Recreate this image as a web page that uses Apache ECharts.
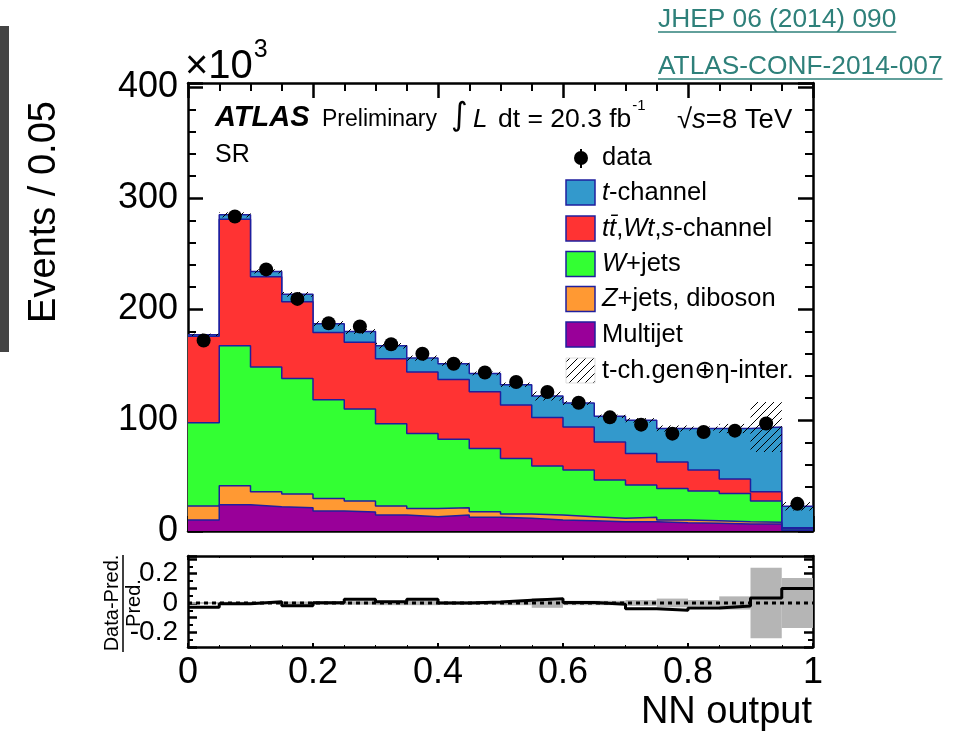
<!DOCTYPE html>
<html>
<head>
<meta charset="utf-8">
<title>NN output — SR</title>
<script src="https://cdn.jsdelivr.net/npm/echarts@6/dist/echarts.min.js"></script>
<style>
  html, body { margin: 0; padding: 0; background: #ffffff; }
  #chart { width: 959px; height: 732px; }
</style>
</head>
<body>
<div id="chart"></div>
<script>
// Lower edges of the 20 NN-output bins (width 0.05)
const binLow = [0.00, 0.05, 0.10, 0.15, 0.20, 0.25, 0.30, 0.35, 0.40, 0.45,
                0.50, 0.55, 0.60, 0.65, 0.70, 0.75, 0.80, 0.85, 0.90, 0.95];
const binWidth = 0.05;

// Expected events per bin, in units of 10^3
const multijet = [9.9, 23.7, 21.9, 21.0, 18.0, 17.1, 14.4, 12.9, 14.4, 12.3,
                  11.4, 9.9, 9.3, 8.4, 8.4, 7.5, 6.9, 6.3, 6.3, 0.6];
const zjetsDiboson = [12.6, 17.1, 13.5, 12.3, 11.4, 9.9, 8.1, 7.5, 6.6, 5.1,
                      4.0, 4.5, 3.6, 3.0, 3.9, 2.4, 2.4, 2.1, 1.5, 0.3];
const wjets = [75.2, 126.2, 112.4, 104.3, 89.0, 83.0, 74.3, 67.5, 61.7, 57.0,
               50.0, 44.3, 42.0, 34.5, 29.1, 28.5, 26.7, 25.5, 19.2, 1.6];
const ttbarWtS = [78.0, 114.2, 81.5, 69.2, 60.6, 60.2, 58.5, 55.4, 54.0, 51.2,
                  48.2, 43.6, 38.9, 34.4, 28.5, 23.9, 18.9, 12.9, 8.4, 0.4];
const tChannel = [1.2, 3.9, 4.8, 6.6, 8.0, 9.7, 11.7, 12.6, 14.1, 16.5,
                  18.3, 19.4, 21.6, 23.1, 29.9, 30.1, 37.5, 45.6, 58.4, 19.4];

// Observed events per bin, in units of 10^3
const observed = [171.8, 283.6, 235.9, 209.3, 187.3, 184.4, 168.4, 159.8, 150.8, 143.0,
                  134.3, 125.3, 115.7, 102.5, 95.9, 87.8, 89.3, 90.5, 97.0, 24.5];

// Relative t-channel generator + eta-interpolation uncertainty per bin
const relUncert = [0.006, 0.008, 0.008, 0.010, 0.012, 0.012, 0.015, 0.015, 0.012, 0.012,
                   0.015, 0.033, 0.015, 0.015, 0.020, 0.030, 0.020, 0.045, 0.240, 0.170];

// Tick labels
const mainYTicks = [0, 100, 200, 300, 400];
const ratioYTicks = [-0.2, 0, 0.2];

const FONT = 'Liberation Sans, Arial, Helvetica, sans-serif';
const NAVY = '#1f1f9e';
const colors = {
  tChannel: '#3399cc',
  ttbarWtS: '#ff3333',
  wjets: '#33ff33',
  zjetsDiboson: '#ff9933',
  multijet: '#990099',
  ratioBand: '#b5b5b5'
};

// cumulative stack, bottom component first
const components = [
  ['Multijet', multijet, colors.multijet],
  ['Z+jets, diboson', zjetsDiboson, colors.zjetsDiboson],
  ['W+jets', wjets, colors.wjets],
  ['tt,Wt,s-channel', ttbarWtS, colors.ttbarWtS],
  ['t-channel', tChannel, colors.tChannel]
];
const cumulative = [];
let running = binLow.map(() => 0);
components.forEach(([name, vals, color]) => {
  running = running.map((r, i) => r + vals[i]);
  cumulative.push({ name, top: running.slice(), color });
});
const total = running;

// step-line points: one per bin lower edge, plus the closing edge at 1
function stepPoints(vals) {
  const pts = binLow.map((x, i) => [x, vals[i]]);
  pts.push([binLow[binLow.length - 1] + binWidth, vals[vals.length - 1]]);
  return pts;
}

// diagonal hatch tile
function hatchTile() {
  const c = document.createElement('canvas');
  const s = 8;
  c.width = s; c.height = s;
  const g = c.getContext('2d');
  g.strokeStyle = '#000';
  g.lineWidth = 1;
  g.beginPath();
  g.moveTo(0, s); g.lineTo(s, 0);
  g.moveTo(-1, 1); g.lineTo(1, -1);
  g.moveTo(s - 1, s + 1); g.lineTo(s + 1, s - 1);
  g.stroke();
  return c;
}
const hatchFill = { image: hatchTile(), repeat: 'repeat' };

function rectItem(fill) {
  return function (params, api) {
    const p0 = api.coord([api.value(0), api.value(3)]);
    const p1 = api.coord([api.value(1), api.value(2)]);
    return {
      type: 'rect',
      shape: { x: p0[0], y: p0[1], width: p1[0] - p0[0], height: p1[1] - p0[1] },
      style: { fill: fill, stroke: null }
    };
  };
}

const series = [];

// stacked background histograms: draw largest cumulative first
cumulative.slice().reverse().forEach((c, k) => {
  series.push({
    name: c.name,
    type: 'line',
    xAxisIndex: 0, yAxisIndex: 0,
    step: 'end',
    data: stepPoints(c.top),
    symbol: 'none',
    lineStyle: { color: NAVY, width: 1.5 },
    areaStyle: { color: c.color, opacity: 1 },
    z: 2 + k * 0.01,
    silent: true,
    animation: false
  });
});

// hatched uncertainty band on the total prediction
series.push({
  type: 'custom',
  xAxisIndex: 0, yAxisIndex: 0,
  renderItem: rectItem(hatchFill),
  data: binLow.map((x, i) => [x, x + binWidth, total[i] * (1 - relUncert[i]), total[i] * (1 + relUncert[i])]),
  encode: { x: [0, 1], y: [2, 3] },
  z: 3,
  silent: true,
  animation: false
});

// observed data
series.push({
  name: 'data',
  type: 'scatter',
  xAxisIndex: 0, yAxisIndex: 0,
  data: binLow.map((x, i) => [x + binWidth / 2, observed[i]]),
  symbol: 'circle',
  symbolSize: 14,
  itemStyle: { color: '#000', opacity: 1 },
  z: 4,
  silent: true,
  animation: false
});

// ratio panel: uncertainty band
series.push({
  type: 'custom',
  xAxisIndex: 2, yAxisIndex: 2,
  renderItem: rectItem(colors.ratioBand),
  data: binLow.map((x, i) => [x, x + binWidth, -relUncert[i], relUncert[i]]),
  encode: { x: [0, 1], y: [2, 3] },
  z: 2,
  silent: true,
  animation: false
});

// ratio panel: reference line at zero
series.push({
  type: 'line',
  xAxisIndex: 2, yAxisIndex: 2,
  data: [[0, 0], [1, 0]],
  symbol: 'none',
  lineStyle: { color: '#000', width: 3, type: [4, 4] },
  z: 3,
  silent: true,
  animation: false
});

// ratio panel: (data - prediction) / prediction
series.push({
  type: 'line',
  xAxisIndex: 2, yAxisIndex: 2,
  step: 'end',
  data: stepPoints(observed.map((d, i) => d / total[i] - 1)),
  symbol: 'none',
  lineStyle: { color: '#000', width: 3 },
  z: 4,
  silent: true,
  animation: false
});

function xAxisDef(grid, position, opts) {
  return Object.assign({
    type: 'value', gridIndex: grid, position: position,
    min: 0, max: 1, interval: 0.2,
    axisLine: { show: true, onZero: false, lineStyle: { color: '#000', width: 2.5 } },
    axisTick: { show: true, inside: true, length: 15, lineStyle: { color: '#000', width: 2.5 } },
    minorTick: { show: true, splitNumber: 4, length: 8, lineStyle: { color: '#000', width: 2 } },
    axisLabel: { show: false },
    splitLine: { show: false }
  }, opts || {});
}
function yAxisDef(grid, position, opts) {
  return Object.assign({
    type: 'value', gridIndex: grid, position: position,
    axisLine: { show: true, onZero: false, lineStyle: { color: '#000', width: 2.5 } },
    splitLine: { show: false },
    axisLabel: { show: false }
  }, opts || {});
}

const mainY = {
  min: 0, max: 404, interval: 100,
  axisTick: { show: true, inside: true, length: 15, lineStyle: { color: '#000', width: 2.5 } },
  minorTick: { show: true, splitNumber: 5, length: 8, lineStyle: { color: '#000', width: 2 } }
};
const ratioY = {
  min: -0.3, max: 0.32, interval: 0.1,
  axisTick: { show: true, inside: true, length: 9, lineStyle: { color: '#000', width: 2.5 } },
  minorTick: { show: true, splitNumber: 2, length: 5, lineStyle: { color: '#000', width: 2 } }
};
const ratioX = {
  axisTick: { show: true, inside: true, length: 4, lineStyle: { color: '#000', width: 2 } },
  minorTick: { show: true, splitNumber: 4, length: 2, lineStyle: { color: '#000', width: 1 } }
};

const option = {
  backgroundColor: '#ffffff',
  animation: false,
  grid: [
    { left: 188, top: 83, width: 625, height: 448 },
    { left: 188, top: 556, width: 625, height: 91 }
  ],
  xAxis: [
    xAxisDef(0, 'bottom'),
    xAxisDef(0, 'top'),
    xAxisDef(1, 'bottom', Object.assign({}, ratioX, {
      axisLabel: {
        show: true, fontSize: 36, fontFamily: FONT, color: '#000', margin: 8,
        formatter: v => String(Math.round(v * 10) / 10)
      }
    })),
    xAxisDef(1, 'top', ratioX)
  ],
  yAxis: [
    yAxisDef(0, 'left', Object.assign({}, mainY, {
      axisLabel: {
        show: true, fontSize: 36, fontFamily: FONT, color: '#000', margin: 10,
        formatter: v => (mainYTicks.indexOf(Math.round(v)) >= 0 && Math.abs(v - Math.round(v)) < 1e-6 ? String(Math.round(v)) : '')
      }
    })),
    yAxisDef(0, 'right', mainY),
    yAxisDef(1, 'left', Object.assign({}, ratioY, {
      axisLabel: {
        show: true, fontSize: 28, fontFamily: FONT, color: '#000', margin: 10,
        formatter: v => {
          const hit = ratioYTicks.find(t => Math.abs(t - v) < 1e-6);
          return hit === undefined ? '' : String(hit);
        }
      }
    })),
    yAxisDef(1, 'right', ratioY)
  ],
  series: series
};

const chart = echarts.init(document.getElementById('chart'), null, { renderer: 'canvas' });
chart.setOption(option);

// ---- annotations, legend, axis titles ----
function measure(text, size, extra) {
  const g = document.createElement('canvas').getContext('2d');
  g.font = (extra || '') + ' ' + size + 'px ' + FONT;
  return g.measureText(text).width;
}
const LINK = '#2e807a';
const txt = (x, y, text, size, extra) => ({
  type: 'text', x: x, y: y, silent: true,
  style: Object.assign({ text: text, fontSize: size, fontFamily: FONT, fill: '#000',
                         textAlign: 'left', textVerticalAlign: 'middle' }, extra || {})
});

const graphics = [];

// side bar
graphics.push({ type: 'rect', silent: true, shape: { x: 0, y: 26, width: 9, height: 326 }, style: { fill: '#444444' } });

// reference links
[['JHEP 06 (2014) 090', 20], ['ATLAS-CONF-2014-007', 67]].forEach(([t, y]) => {
  graphics.push(txt(658, y, t, 26.3, { fill: LINK }));
  const w = measure(t, 26.3);
  graphics.push({ type: 'line', silent: true, shape: { x1: 658, y1: y + 12, x2: 658 + w, y2: y + 12 },
                  style: { stroke: LINK, lineWidth: 1.5 } });
});

// y-axis title
const yTitle = txt(45, 212, 'Events / 0.05', 38, { textAlign: 'center' });
yTitle.rotation = Math.PI / 2;
graphics.push(yTitle);

// x10^3 multiplier
graphics.push(txt(185, 67, '×10', 40));
graphics.push(txt(185 + measure('×10', 40) + 1, 50, '3', 25));

// ATLAS header
graphics.push(txt(215, 118, 'ATLAS', 29, { fontWeight: 'bold', fontStyle: 'italic' }));
graphics.push(txt(322, 120, 'Preliminary', 23));
graphics.push(txt(451, 117, '∫', 32, { fontFamily: 'DejaVu Sans, ' + FONT }));
graphics.push(txt(473, 120, 'L', 26, { fontStyle: 'italic' }));
const lumi = 'dt = 20.3 fb';
graphics.push(txt(498, 120, lumi, 26.5));
graphics.push(txt(498 + measure(lumi, 26.5) + 1, 106, '-1', 15));
graphics.push(txt(677, 120, '√{i|s}=8 TeV', 27.5, { rich: { i: { fontStyle: 'italic', fontSize: 27.5, fontFamily: FONT } } }));
graphics.push(txt(215, 155, 'SR', 25));

// legend
const LX = 566, LTX = 602;
graphics.push({ type: 'line', silent: true, shape: { x1: 581, y1: 149, x2: 581, y2: 168 }, style: { stroke: '#000', lineWidth: 2 } });
graphics.push({ type: 'circle', silent: true, shape: { cx: 581, cy: 158, r: 7 }, style: { fill: '#000' } });
graphics.push(txt(LTX, 158, 'data', 25.5));
const it = { i: { fontStyle: 'italic', fontSize: 25.5, fontFamily: FONT } };
const legendRows = [
  [192.5, colors.tChannel, '{i|t}-channel'],
  [228.5, colors.ttbarWtS, '{i|tt̄},{i|Wt},{i|s}-channel'],
  [264, colors.wjets, '{i|W}+jets'],
  [299, colors.zjetsDiboson, '{i|Z}+jets, diboson'],
  [334.5, colors.multijet, 'Multijet']
];
legendRows.forEach(([y, color, label]) => {
  graphics.push({ type: 'rect', silent: true, shape: { x: LX, y: y - 12.5, width: 29, height: 25 },
                  style: { fill: color, stroke: NAVY, lineWidth: 1.5 } });
  graphics.push(txt(LTX, y, label, 25.5, { rich: it }));
});
graphics.push({ type: 'rect', silent: true, shape: { x: LX, y: 370.5 - 12.5, width: 29, height: 25 },
                style: { fill: hatchFill, stroke: '#dddddd', lineWidth: 1 } });
graphics.push(txt(LTX, 370.5, 't-ch.gen⊕η-inter.', 25.5, { fontFamily: FONT + ', DejaVu Sans' }));

// ratio y-axis title as a fraction
const fr1 = txt(112, 603, 'Data-Pred.', 20, { textAlign: 'center' });
fr1.rotation = Math.PI / 2;
const fr2 = txt(134, 603, 'Pred.', 20, { textAlign: 'center' });
fr2.rotation = Math.PI / 2;
graphics.push(fr1, fr2);
graphics.push({ type: 'line', silent: true, shape: { x1: 123, y1: 555, x2: 123, y2: 652 }, style: { stroke: '#000', lineWidth: 1.5 } });

// x-axis title
graphics.push(txt(812, 713, 'NN output', 38, { textAlign: 'right' }));

chart.setOption({ graphic: { elements: graphics } });
</script>
</body>
</html>
